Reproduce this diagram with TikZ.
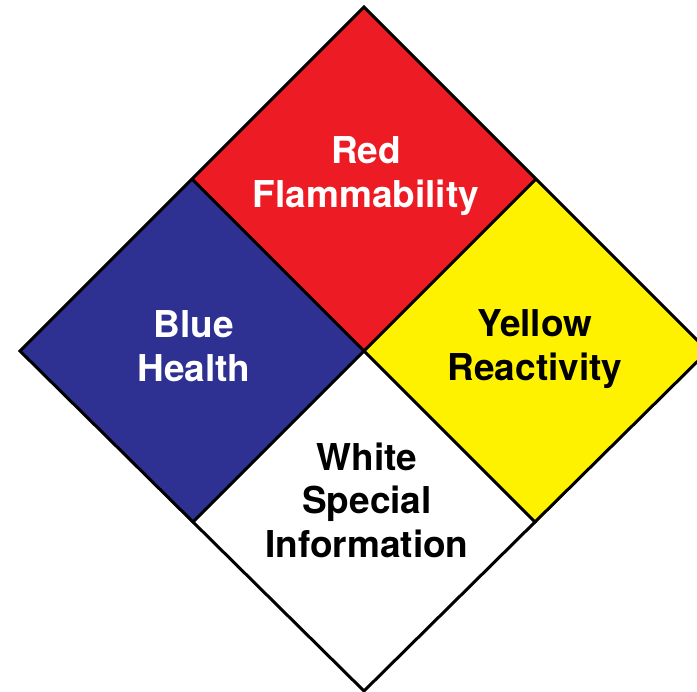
\documentclass[tikz,border=0pt]{standalone}
\usepackage{fontspec}
\setmainfont{TeX Gyre Heros}
\usepackage{tikz}
\usetikzlibrary{positioning}
\definecolor{nfpared}{HTML}{ED1C24}
\definecolor{nfpablue}{HTML}{2E3192}
\definecolor{nfpayellow}{HTML}{FFF200}

\begin{document}
\begin{tikzpicture}[x=1pt,y=-1pt,
    quad/.style={draw=black,line width=3pt,line join=miter},
    hazlabel/.style={font=\fontsize{37}{43.5}\selectfont\bfseries,align=center,inner sep=0pt}]
      \useasboundingbox (0,0) rectangle (697,692);
      % corners of the diamond
      \coordinate (top) at (364,7);
      \coordinate (left) at (20,351);
      \coordinate (right) at (708,351);
      \coordinate (bottom) at (364,691);
      \coordinate (c) at (364,351);
      \coordinate (tl) at (192,179);
      \coordinate (tr) at (536,179);
      \coordinate (bl) at (192,523);
      \coordinate (br) at (536,523);
      \fill[white] (c) -- (bl) -- (bottom) -- (br) -- cycle;
      \fill[nfpared] (top) -- (tl) -- (c) -- (tr) -- cycle;
      \fill[nfpablue] (tl) -- (left) -- (bl) -- (c) -- cycle;
      \fill[nfpayellow] (tr) -- (c) -- (br) -- (right) -- cycle;
      \draw[quad] (top) -- (left) -- (bottom) -- (right) -- cycle;
      \draw[quad] (tl) -- (br);
      \draw[quad] (tr) -- (bl);
      \node[hazlabel,text=white](red) at (366,176){Red\\Flammability};
      \node[hazlabel,text=white](blue) at (194,346){Blue\\Health};
      \node[hazlabel,text=black](yellow) at (535,349){Yellow\\Reactivity};
      \node[hazlabel,text=black](white) at (367,500){White\\Special\\Information};
    \end{tikzpicture}
\end{document}
